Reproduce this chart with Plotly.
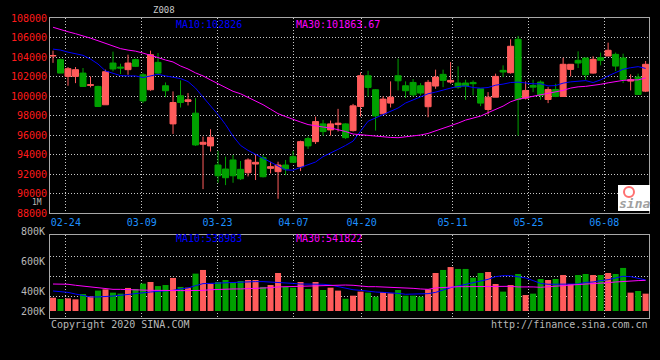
import plotly.graph_objects as go

# ---------------- data ----------------
date_labels = ["02-24", "03-09", "03-23", "04-07", "04-20", "05-11", "05-25", "06-08"]
date_index = [2, 12, 22, 32, 41, 53, 63, 73]

opens = [104100, 103730, 102010, 102010, 102350, 101090, 100980, 99100, 103380, 102970,
         102700, 103730, 102180, 100640, 103450, 101050, 97140, 100020, 99440, 98240,
         95050, 94880, 92920, 92510, 93440, 92480, 92130, 93020, 93680, 92580,
         92240, 92920, 93780, 92750, 95630, 95320, 97140, 96520, 97070, 97140,
         96450, 98920, 102080, 100640, 98170, 99270, 102080, 101050, 101390, 101050,
         98900, 101020, 102220, 101430, 101330, 101330, 101390, 100740, 98620, 99880,
         102630, 102390, 105820, 99780, 101080, 101430, 99640, 100670, 99950, 102730,
         103660, 103900, 102350, 103930, 104100, 104270, 103900, 101530, 101940, 100500]
highs = [104650, 103830, 102970, 102970, 102870, 102000, 101050, 102700, 104550, 103310,
         104240, 103830, 102350, 104650, 104410, 101390, 100470, 101600, 100300, 99780,
         95840, 96590, 94360, 93780, 93950, 93330, 93610, 94020, 93950, 93260,
         93260, 93440, 94360, 95420, 95840, 97890, 97550, 97480, 98680, 97210,
         99190, 102420, 102590, 100710, 99950, 101500, 103830, 101500, 101740, 101320,
         101650, 102700, 102700, 103490, 103040, 101670, 101600, 100740, 100400, 102290,
         103140, 105820, 106160, 101500, 101670, 101600, 100910, 101260, 103930, 103250,
         104580, 103900, 104070, 104450, 105470, 104450, 104340, 102220, 102290, 103590]
lows = [103400, 102350, 101050, 101320, 100980, 100880, 98920, 99100, 102530, 102250,
        102180, 102970, 99270, 100540, 102180, 99880, 96110, 98820, 99030, 94880,
        90450, 94300, 91100, 90860, 91100, 91380, 91750, 91380, 91650, 92060,
        89460, 91890, 93200, 92300, 94570, 95080, 95940, 95940, 96350, 95600,
        96350, 97890, 99950, 96450, 98170, 98820, 100570, 99780, 99950, 100060,
        97820, 100740, 100910, 101260, 100740, 99610, 100060, 98960, 98100, 99880,
        101940, 102290, 95940, 99640, 100400, 99610, 99270, 99880, 99950, 102010,
        102870, 101670, 102290, 103140, 104100, 102560, 101330, 100570, 100160, 100400]
closes = [104150, 102350, 102800, 102700, 100980, 101150, 98920, 102490, 102770, 102870,
          103380, 103040, 99500, 104240, 102350, 100540, 99330, 99330, 99610, 94980,
          95250, 95770, 91820, 91620, 91820, 91510, 93440, 93200, 91720, 92750,
          92920, 92510, 93200, 95320, 94880, 97380, 96350, 97140, 97210, 95730,
          98990, 102080, 100880, 97960, 99680, 99880, 101560, 100540, 100120, 100300,
          101400, 101940, 101600, 101600, 100910, 101020, 101260, 99270, 99880, 102010,
          102460, 105100, 99640, 100570, 100910, 100060, 100670, 99950, 103250, 103250,
          103380, 102180, 103760, 103660, 104690, 103070, 101700, 101670, 100160, 103250]

ma10 = [104810, 104710, 104500, 104330, 104170, 103790, 103280, 102570, 102290, 102090,
        102060, 102060, 101890, 102060, 102230, 102060, 101930, 101790, 101480, 100810,
        99890, 99040, 98090, 97070, 95880, 94930, 94420, 94020, 93610, 93170,
        92830, 92420, 92390, 92660, 92930, 93230, 93780, 94120, 94530, 94930,
        95370, 96390, 97410, 97750, 98090, 98430, 98770, 99280, 99620, 99950,
        100230, 100400, 100630, 100810, 100970, 101040, 100870, 100810, 100870, 101110,
        101220, 101380, 101420, 101320, 101250, 101250, 101040, 101070, 101320, 101450,
        101550, 101580, 101380, 101650, 102060, 102400, 102740, 102900, 103010, 102830]
ma30 = [107050, 106790, 106590, 106390, 106180, 105930, 105670, 105420, 105110, 104860,
        104710, 104600, 104400, 104200, 103940, 103690, 103490, 103080, 102770, 102370,
        102060, 101650, 101250, 100890, 100480, 100230, 99870, 99520, 99110, 98650,
        98190, 97890, 97580, 97330, 97070, 96920, 96820, 96720, 96560, 96360,
        96100, 96020, 95980, 95850, 95820, 95750, 95720, 95800, 95900, 96000,
        96160, 96410, 96720, 96970, 97220, 97530, 97730, 97940, 98290, 98600,
        98960, 99410, 99670, 99820, 99970, 100130, 100280, 100430, 100580, 100810,
        100940, 100990, 101070, 101200, 101350, 101500, 101600, 101650, 101650, 101860]

volume_k = [305, 295, 300, 292, 334, 318, 361, 371, 345, 337,
            382, 374, 416, 429, 397, 405, 461, 390, 384, 495,
            524, 416, 429, 445, 429, 437, 445, 445, 390, 405,
            500, 390, 384, 429, 374, 429, 366, 384, 361, 297,
            321, 353, 345, 313, 350, 340, 366, 321, 321, 313,
            371, 500, 524, 547, 532, 532, 463, 500, 508, 413,
            353, 405, 492, 326, 337, 453, 445, 453, 484, 413,
            484, 492, 484, 484, 500, 492, 540, 345, 358, 337]
vol_ma10_k = [358, 355, 347, 334, 321, 311, 311, 313, 318, 324,
              332, 339, 347, 350, 355, 358, 363, 374, 382, 400,
              416, 418, 421, 421, 426, 429, 429, 432, 432, 429,
              429, 421, 418, 413, 413, 413, 411, 405, 392, 382,
              368, 363, 355, 350, 347, 345, 339, 332, 332, 332,
              337, 347, 366, 384, 397, 411, 426, 437, 450, 471,
              479, 479, 471, 461, 440, 418, 411, 411, 411, 411,
              413, 426, 429, 440, 447, 461, 474, 471, 455, 445]
vol_ma30_k = [413, 413, 411, 403, 397, 392, 384, 376, 371, 371,
              368, 366, 363, 363, 363, 361, 361, 361, 361, 361,
              363, 368, 371, 371, 374, 374, 376, 379, 382, 384,
              390, 392, 395, 397, 397, 400, 403, 405, 405, 405,
              403, 397, 392, 392, 390, 390, 384, 382, 379, 374,
              371, 382, 387, 390, 392, 392, 392, 392, 395, 397,
              395, 395, 390, 392, 390, 387, 390, 395, 400, 405,
              408, 411, 413, 418, 424, 429, 434, 437, 440, 442]

price_ticks = [88000, 90000, 92000, 94000, 96000, 98000, 100000, 102000, 104000, 106000, 108000]
vol_labels = ["800K", "600K", "400K", "200K"]
vol_base_k = 200
vol_grid_k = [318, 476, 634]

# ---------------- styling ----------------
RED = "#ff5b5b"
GREEN = "#00a000"
BLUE = "#0000ff"
MAGENTA = "#ff00ff"
GRID = "#c8c8c8"
BORDER = "#a8a8a8"
GRAY = "#b8b8b8"
MONO = "DejaVu Sans Mono, Liberation Mono, monospace"

W, H = 660, 360
L, R, T, B = 50, 11, 18, 42
PW, PH = W - L - R, H - T - B


def fx(px):
    return (px - L) / PW


def fy(py):
    return (H - B - py) / PH


n = len(closes)
xs = list(range(n))
# grid positions of the date ticks drift slightly against the candle centres
grid_pos = [i - 0.31 + 0.011 * i for i in date_index]

fig = go.Figure()

fig.add_trace(go.Candlestick(
    x=xs, open=opens, high=highs, low=lows, close=closes,
    increasing=dict(line=dict(color=RED, width=1), fillcolor=RED),
    decreasing=dict(line=dict(color=GREEN, width=1), fillcolor=GREEN),
    whiskerwidth=0, hoverinfo="skip", showlegend=False,
    xaxis="x", yaxis="y"))
fig.add_trace(go.Scatter(x=xs, y=ma10, mode="lines", line=dict(color=BLUE, width=1),
                         hoverinfo="skip", showlegend=False, xaxis="x", yaxis="y"))
fig.add_trace(go.Scatter(x=xs, y=ma30, mode="lines", line=dict(color=MAGENTA, width=1),
                         hoverinfo="skip", showlegend=False, xaxis="x", yaxis="y"))

bar_colors = [RED if c >= o else GREEN for o, c in zip(opens, closes)]
fig.add_trace(go.Bar(x=xs, y=[v - vol_base_k for v in volume_k], base=vol_base_k,
                     marker=dict(color=bar_colors, line=dict(width=0)), width=0.8,
                     hoverinfo="skip", showlegend=False, xaxis="x2", yaxis="y2"))
fig.add_trace(go.Scatter(x=xs, y=vol_ma10_k, mode="lines", line=dict(color=BLUE, width=1),
                         hoverinfo="skip", showlegend=False, xaxis="x2", yaxis="y2"))
fig.add_trace(go.Scatter(x=xs, y=vol_ma30_k, mode="lines", line=dict(color=MAGENTA, width=1),
                         hoverinfo="skip", showlegend=False, xaxis="x2", yaxis="y2"))

xr = [-0.4, 79.45]
common_x = dict(range=xr, tickvals=grid_pos, showgrid=True, gridcolor=GRID, griddash="1px,2px",
                gridwidth=1, zeroline=False, showline=True, linecolor=BORDER, linewidth=1,
                mirror=True, ticks="", fixedrange=True)

vol_range_lo = vol_base_k - 7 * 600 / 76
fig.update_layout(
    width=W, height=H,
    margin=dict(l=L, r=R, t=T, b=B, pad=0),
    paper_bgcolor="black", plot_bgcolor="black",
    boxgap=0.2, boxgroupgap=0,
    bargap=0.2,
    font=dict(family=MONO, size=10, color=GRAY),
    xaxis=dict(common_x, domain=[0, 1], anchor="y", ticktext=date_labels,
               tickfont=dict(family=MONO, size=10, color="#1e90ff"),
               rangeslider=dict(visible=False)),
    yaxis=dict(domain=[0.35, 1], range=[88000, 108000], tickvals=price_ticks,
               ticktext=[str(v) for v in price_ticks],
               tickfont=dict(family=MONO, size=10, color="#ff1a1a"),
               showgrid=True, gridcolor=GRID, griddash="1px,2px", gridwidth=1,
               zeroline=False, showline=True, linecolor=BORDER, linewidth=1, mirror=True,
               ticks="", fixedrange=True),
    xaxis2=dict(common_x, domain=[0, 1], anchor="y2", showticklabels=False),
    yaxis2=dict(domain=[0, 83 / PH], range=[vol_range_lo, 800], tickvals=vol_grid_k,
                showticklabels=False, showgrid=True, gridcolor=GRID, griddash="1px,2px",
                gridwidth=1, zeroline=False, showline=True, linecolor=BORDER, linewidth=1,
                mirror=True, ticks="", fixedrange=True),
)

ann = []


def text(s, px, py, color, xanchor="left", size=10, **kw):
    ann.append(dict(text=s, x=fx(px), y=fy(py), xref="paper", yref="paper",
                    xanchor=xanchor, yanchor="middle", showarrow=False,
                    font=dict(family=MONO, size=size, color=color, **kw)))


text("Z008", 164, 10, "#c8c8c8", xanchor="center", size=9)
text("MA10:102826", 174, 24, BLUE)
text("MA30:101863.67", 294, 24, MAGENTA)
text("1M", 44, 202.5, GRAY, xanchor="right", size=8)
text("MA10:538983", 174, 238, BLUE)
text("MA30:541822", 294, 238, MAGENTA)
for lab, py in zip(vol_labels, [231, 261, 291, 311]):
    text(lab, 47, py, GRAY, xanchor="right")
text("Copyright 2020 SINA.COM", 49, 324, GRAY)
text("http://finance.sina.com.cn", 650, 324, GRAY, xanchor="right")
text("sina", 634, 203, "#a0a0a0", xanchor="center", size=13, weight="bold", style="italic")
fig.update_layout(annotations=ann)

fig.update_layout(shapes=[
    dict(type="rect", xref="paper", yref="paper", x0=fx(618), x1=fx(650), y0=fy(211), y1=fy(185),
         fillcolor="white", line=dict(width=0), layer="above"),
    dict(type="circle", xref="paper", yref="paper", x0=fx(624), x1=fx(634), y0=fy(197), y1=fy(187),
         fillcolor="rgba(0,0,0,0)", line=dict(color="#ff7070", width=2), layer="above"),
])

fig.write_html("out.html", config={"displayModeBar": False},
               post_script="document.body.style.margin='0';document.body.style.background='black';")
